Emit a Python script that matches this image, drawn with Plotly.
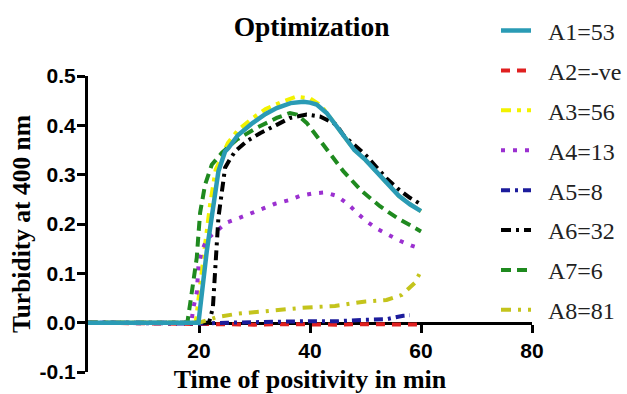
import plotly.graph_objects as go

# ---- data ----
a1_x = [0, 10, 19.9, 21.4, 22.6, 23.5, 24.7, 25.3, 27, 29.7, 32, 34, 36.5, 38.8, 40, 41.2, 43, 44.8, 46, 48, 50, 52, 54, 56, 58, 60]
a1_y = [0, 0, 0, 0.145, 0.246, 0.307, 0.347, 0.354, 0.38, 0.405, 0.423, 0.435, 0.445, 0.448, 0.446, 0.442, 0.425, 0.398, 0.378, 0.35, 0.33, 0.305, 0.28, 0.257, 0.24, 0.226]

a2_x = [0, 20, 25, 30, 35, 40, 45, 50, 55, 60]
a2_y = [0, -0.004, -0.004, -0.004, -0.003, -0.004, -0.004, -0.003, -0.004, -0.004]

a3_x = [0, 10, 19.4, 21, 22, 23, 25.2, 27, 29.7, 32, 35, 37.5, 40, 42, 44, 46, 48, 50, 52, 54, 56, 58, 60]
a3_y = [0, 0, 0, 0.15, 0.24, 0.31, 0.364, 0.39, 0.415, 0.433, 0.448, 0.458, 0.455, 0.44, 0.41, 0.378, 0.35, 0.33, 0.305, 0.28, 0.257, 0.24, 0.226]

a4_x = [0, 18.6, 19.0, 19.6, 19.9, 20.5, 21.4, 23.2, 25.0, 27.4, 29.5, 31.6, 33.7, 36.1, 38.2, 40.6, 42.7, 44.8, 46.9, 48.7, 50.5, 52.3, 54.4, 56.2, 58.3, 60]
a4_y = [0, 0, 0.031, 0.061, 0.115, 0.145, 0.169, 0.186, 0.203, 0.213, 0.223, 0.233, 0.241, 0.248, 0.257, 0.262, 0.264, 0.257, 0.24, 0.22, 0.203, 0.189, 0.176, 0.166, 0.156, 0.15]

a5_x = [0, 20, 25, 30, 35, 40, 45, 50, 53.8, 56.8, 58]
a5_y = [0, -0.002, 0, 0.002, 0.002, 0.003, 0.003, 0.006, 0.007, 0.014, 0.015]

a6_x = [0, 10, 21.8, 22.5, 22.8, 23.2, 23.5, 24.1, 24.7, 25.5, 26.5, 28.6, 31, 34, 36.4, 39.4, 41.8, 44.8, 46, 48, 50, 52, 54, 56, 58, 60]
a6_y = [0, 0, 0, 0.03, 0.098, 0.159, 0.213, 0.267, 0.314, 0.33, 0.347, 0.368, 0.384, 0.401, 0.415, 0.422, 0.418, 0.401, 0.38, 0.36, 0.34, 0.315, 0.29, 0.27, 0.253, 0.24]

a7_x = [0, 10, 17.9, 18.4, 19.0, 19.6, 19.9, 20.2, 21.1, 22.3, 24.1, 26.8, 30.4, 34, 36.4, 37.6, 39.4, 41.2, 43.6, 46, 49.3, 52.6, 55.6, 60]
a7_y = [0, 0, 0, 0.038, 0.085, 0.132, 0.179, 0.223, 0.28, 0.32, 0.344, 0.371, 0.395, 0.415, 0.425, 0.422, 0.405, 0.378, 0.341, 0.307, 0.267, 0.236, 0.213, 0.185]

a8_x = [0, 20, 23.2, 26.8, 32.8, 38.5, 44.5, 50, 53.8, 56.5, 58.9, 60]
a8_y = [0, 0, 0.011, 0.018, 0.024, 0.03, 0.034, 0.043, 0.046, 0.056, 0.081, 0.105]

names = ["A1=53", "A2=-ve", "A3=56", "A4=13", "A5=8", "A6=32", "A7=6", "A8=81"]
y_ticks = [-0.1, 0.0, 0.1, 0.2, 0.3, 0.4, 0.5]
y_tick_text = ["-0.1", "0.0", "0.1", "0.2", "0.3", "0.4", "0.5"]
x_ticks = [20, 40, 60, 80]

series = [
    (a1_x, a1_y, "#2a9bb5", "solid", 4.5),
    (a2_x, a2_y, "#e02020", "9px,7px", 4),
    (a3_x, a3_y, "#f2f200", "10px,6px,4px,6px", 4),
    (a4_x, a4_y, "#9b30d0", "4px,8px", 4),
    (a5_x, a5_y, "#1c1c9c", "9px,5px,3px,5px", 4),
    (a6_x, a6_y, "#000000", "10px,5px,3px,5px", 4),
    (a7_x, a7_y, "#1f8a1f", "10px,6px", 4),
    (a8_x, a8_y, "#c4c41c", "10px,7px,3px,7px", 4),
]

fig = go.Figure()
# draw A1 last so it sits on top, keep legend order with legendrank
order = [1, 2, 3, 4, 5, 6, 7, 0]
for i in order:
    xs, ys, col, dash, w = series[i]
    fig.add_trace(go.Scatter(
        x=xs, y=ys, mode="lines", name="\u00a0\u00a0" + names[i],
        line=dict(color=col, dash=dash, width=w),
        legendgroup=names[i], legendrank=i + 1,
    ))

serif = "Liberation Serif"
sans = "Liberation Sans"

H = 394
T, B = 0, 10
ph = H - T - B
d0 = 1 - (372 - T) / ph
d1 = 1 - (76 - T) / ph
x_pos = d0 + (d1 - d0) / 6  # y = 0 within range [-0.1, 0.5]

fig.update_layout(
    width=627, height=H,
    margin=dict(l=88, r=95, t=T, b=B),
    paper_bgcolor="white", plot_bgcolor="white",
    title=dict(text="<b>Optimization</b>", x=0.497, xref="container", y=0.933,
               yanchor="middle", xanchor="center",
               font=dict(family=serif, size=27.5, color="black")),
    legend=dict(x=0.919, y=0.978, xanchor="left", yanchor="top",
                font=dict(family=serif, size=24, color="#222"),
                tracegroupgap=5.7, bgcolor="rgba(0,0,0,0)"),
    xaxis=dict(range=[0, 80], tickvals=x_ticks, showline=True, linewidth=3,
               linecolor="black", ticks="outside", ticklen=8, tickwidth=3,
               tickcolor="black", showgrid=False, zeroline=False,
               anchor="free", position=x_pos, automargin=False,
               layer="below traces",
               tickfont=dict(family=sans, size=21, color="black", weight="bold"),
               title=dict(text="<b>Time of positivity in min</b>", standoff=13,
                          font=dict(family=serif, size=26, color="black"))),
    yaxis=dict(range=[-0.1, 0.5], domain=[d0, d1], tickvals=y_ticks,
               ticktext=y_tick_text, automargin=False, ticklabelstandoff=-3,
               layer="below traces",
               showline=True, linewidth=3, linecolor="black", ticks="outside",
               ticklen=8, tickwidth=3, tickcolor="black", showgrid=False,
               zeroline=False,
               tickfont=dict(family=sans, size=21, color="black", weight="bold"),
               title=dict(text="<b>Turbidity at 400 nm</b>", standoff=2,
                          font=dict(family=serif, size=25.5, color="black"))),
)

fig.write_html("out.html", config={"displayModeBar": False},
               post_script="document.body.style.margin='0px';")
